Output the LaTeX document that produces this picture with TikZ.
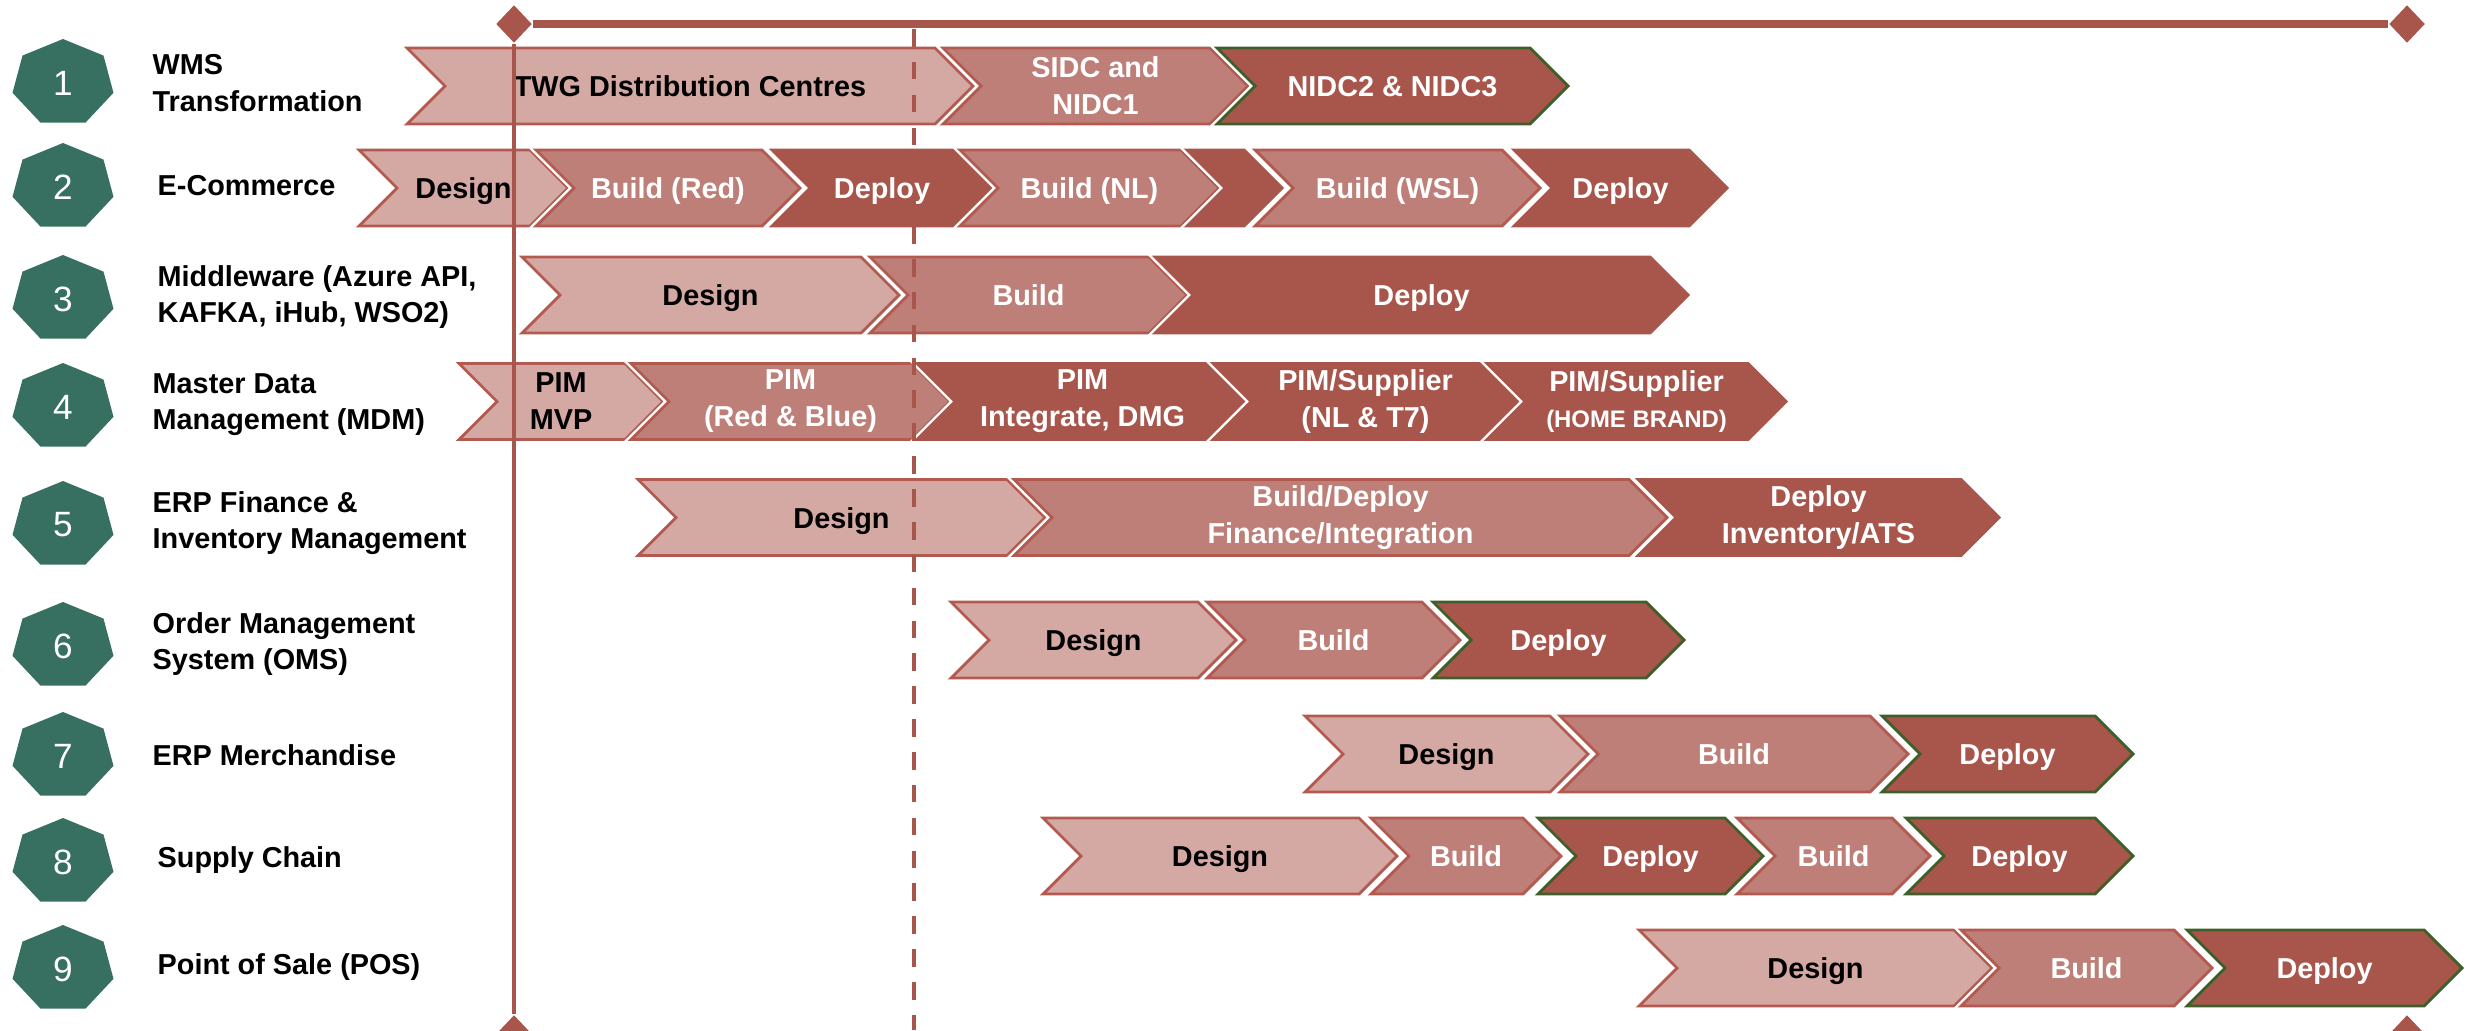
\documentclass[tikz,border=0pt]{standalone}
\usepackage{fontspec}
\setmainfont{Liberation Sans}
\usetikzlibrary{shapes.symbols,shapes.geometric}

\definecolor{cLite}{HTML}{D4A9A4}
\definecolor{cMid}{HTML}{BD7F77}
\definecolor{cDark}{HTML}{A8554B}
\definecolor{cEdge}{HTML}{B35A50}
\definecolor{cGreen}{HTML}{3F5F2A}
\definecolor{cHept}{HTML}{377060}

\tikzset{
	bar/.style={signal, signal to=east, signal from=west, signal pointer angle=90,
		minimum height=0.76cm, inner sep=0pt, line width=0.8pt, align=center,
		preaction={draw=white, line width=2.2pt},
		text height=6.1pt, text depth=0pt,
		font=\bfseries\fontsize{8.2}{10.5}\selectfont},
	lines/.style={text height=, text depth=},
	litebar/.style={bar, fill=cLite, draw=cEdge, text=black},
	midbar/.style={bar, fill=cMid, draw=cEdge, text=white},
	darkbar/.style={bar, fill=cDark, draw=cDark, text=white},
	greenbar/.style={bar, fill=cDark, draw=cGreen, text=white},
	task/.style={anchor=west, align=left, inner sep=0pt, font=\bfseries\fontsize{8.2}{10.3}\selectfont},
	num/.style={text=white, font=\fontsize{10}{12}\selectfont},
	diam/.style={diamond, fill=cDark, inner sep=0pt, minimum width=0.36cm, minimum height=0.38cm},
	hept/.pic={\fill[cHept] (90:0.518 and 0.44) -- (141.43:0.518 and 0.44) -- (192.86:0.518 and 0.44)
		-- (244.29:0.518 and 0.44) -- (295.71:0.518 and 0.44) -- (347.14:0.518 and 0.44)
		-- (38.57:0.518 and 0.44) -- cycle;}
}

\begin{document}
\begin{tikzpicture}
	\useasboundingbox (0,0) rectangle (24.78,-10.30);

	% workstreams
	\pic at (0.63,-0.83) {hept};
	\pic at (0.63,-1.87) {hept};
	\pic at (0.63,-2.99) {hept};
	\pic at (0.63,-4.07) {hept};
	\pic at (0.63,-5.25) {hept};
	\pic at (0.63,-6.46) {hept};
	\pic at (0.63,-7.56) {hept};
	\pic at (0.63,-8.62) {hept};
	\pic at (0.63,-9.69) {hept};
	\node[num] (n1) at (0.63,-0.83) {1};
	\node[num] (n2) at (0.63,-1.87) {2};
	\node[num] (n3) at (0.63,-2.99) {3};
	\node[num] (n4) at (0.63,-4.07) {4};
	\node[num] (n5) at (0.63,-5.25) {5};
	\node[num] (n6) at (0.63,-6.46) {6};
	\node[num] (n7) at (0.63,-7.56) {7};
	\node[num] (n8) at (0.63,-8.62) {8};
	\node[num] (n9) at (0.63,-9.69) {9};
	\node[task] (t1) at (1.52,-0.83) {WMS\\Transformation};
	\node[task] (t2) at (1.57,-1.86) {E-Commerce};
	\node[task] (t3) at (1.57,-2.97) {Middleware (Azure API,\\KAFKA, iHub, WSO2)};
	\node[task] (t4) at (1.52,-4.05) {Master Data\\Management (MDM)};
	\node[task] (t5) at (1.52,-5.23) {ERP Finance \&\\Inventory Management};
	\node[task] (t6) at (1.52,-6.44) {Order Management\\System (OMS)};
	\node[task] (t7) at (1.52,-7.55) {ERP Merchandise};
	\node[task] (t8) at (1.57,-8.60) {Supply Chain};
	\node[task] (t9) at (1.57,-9.67) {Point of Sale (POS)};

	% phases
	\node[litebar, minimum width=5.66cm] (r1a) at (6.90,-0.86) {TWG Distribution Centres};
	\node[midbar, lines, minimum width=3.05cm] (r1b) at (10.955,-0.86) {SIDC and\\NIDC1};
	\node[greenbar, minimum width=3.51cm] (r1c) at (13.925,-0.86) {NIDC2 \& NIDC3};

	\node[litebar, minimum width=2.09cm] (r2a) at (4.635,-1.88) {Design};
	\node[midbar, minimum width=2.64cm] (r2b) at (6.68,-1.88) {Build (Red)};
	\node[darkbar, minimum width=2.20cm] (r2c) at (8.82,-1.88) {Deploy};
	\node[midbar, minimum width=2.59cm] (r2d) at (10.895,-1.88) {Build (NL)};
	\node[darkbar, minimum width=0.95cm] (r2e) at (12.345,-1.88) {};
	\node[midbar, minimum width=2.85cm] (r2f) at (13.975,-1.88) {Build (WSL)};
	\node[darkbar, minimum width=2.13cm] (r2g) at (16.205,-1.88) {Deploy};

	\node[litebar, minimum width=3.77cm] (r3a) at (7.105,-2.95) {Design};
	\node[midbar, minimum width=3.17cm] (r3b) at (10.285,-2.95) {Build};
	\node[darkbar, minimum width=5.33cm] (r3c) at (14.215,-2.95) {Deploy};

	\node[litebar, lines, minimum width=2.04cm] (r4a) at (5.61,-4.015) {PIM\\MVP};
	\node[midbar, lines, minimum width=3.19cm] (r4b) at (7.905,-4.015) {PIM\\(Red \& Blue)};
	\node[darkbar, lines, minimum width=3.31cm] (r4c) at (10.825,-4.015) {PIM\\Integrate, DMG};
	\node[darkbar, lines, minimum width=3.05cm] (r4d) at (13.655,-4.015) {PIM/Supplier\\(NL \& T7)};
	\node[darkbar, lines, minimum width=2.99cm] (r4e) at (16.365,-4.015) {PIM/Supplier\\{\fontsize{6.8}{8}\selectfont (HOME BRAND)}};

	\node[litebar, minimum width=4.07cm] (r5a) at (8.415,-5.175) {Design};
	\node[midbar, lines, minimum width=6.53cm] (r5b) at (13.405,-5.175) {Build/Deploy\\Finance/Integration};
	\node[darkbar, lines, minimum width=3.61cm] (r5c) at (18.185,-5.175) {Deploy\\Inventory/ATS};

	\node[litebar, minimum width=2.85cm] (r6a) at (10.935,-6.40) {Design};
	\node[midbar, minimum width=2.53cm] (r6b) at (13.335,-6.40) {Build};
	\node[greenbar, minimum width=2.51cm] (r6c) at (15.585,-6.40) {Deploy};

	\node[litebar, minimum width=2.83cm] (r7a) at (14.465,-7.54) {Design};
	\node[midbar, minimum width=3.48cm] (r7b) at (17.34,-7.54) {Build};
	\node[greenbar, minimum width=2.51cm] (r7c) at (20.075,-7.54) {Deploy};

	\node[litebar, minimum width=3.54cm] (r8a) at (12.20,-8.56) {Design};
	\node[midbar, minimum width=1.90cm] (r8b) at (14.66,-8.56) {Build};
	\node[greenbar, minimum width=2.25cm] (r8c) at (16.505,-8.56) {Deploy};
	\node[midbar, minimum width=1.93cm] (r8d) at (18.335,-8.56) {Build};
	\node[greenbar, minimum width=2.27cm] (r8e) at (20.195,-8.56) {Deploy};

	\node[litebar, minimum width=3.53cm] (r9a) at (18.155,-9.68) {Design};
	\node[midbar, minimum width=2.51cm] (r9b) at (20.865,-9.68) {Build};
	\node[greenbar, minimum width=2.75cm] (r9c) at (23.245,-9.68) {Deploy};

	% time axis
	\node[diam] (a1) at (5.14,-0.24) {};
	\node[diam] (a2) at (24.07,-0.24) {};
	\node[diam] (a3) at (5.14,-10.34) {};
	\node[diam] (a4) at (24.07,-10.34) {};
	\coordinate (d1) at (9.14,-0.29);
	\coordinate (d2) at (9.14,-10.30);
	\draw [line width=2.3pt, cDark] (a1) -- (a2);
	\draw [line width=1.3pt, cDark] (a1) -- (a3);
	\draw [line width=1.1pt, cDark, dash pattern=on 5pt off 4.35pt] (d1) -- (d2);
\end{tikzpicture}
\end{document}
